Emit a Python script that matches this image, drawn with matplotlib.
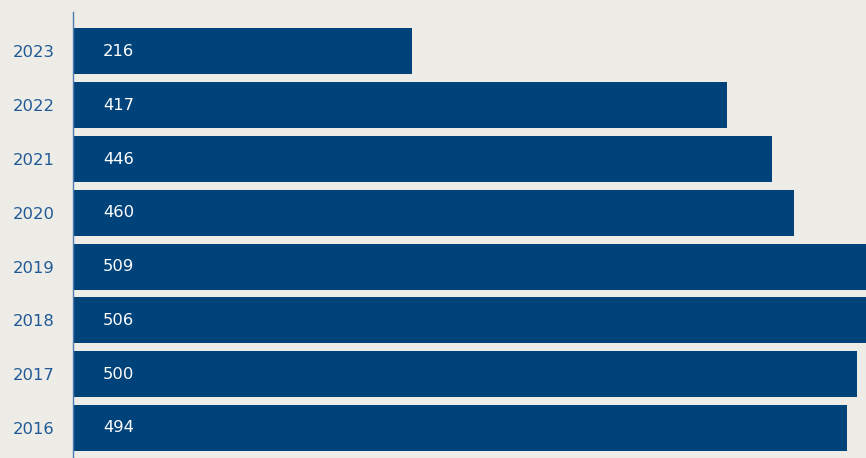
import matplotlib
matplotlib.use("Agg")
import matplotlib.pyplot as plt

years = ["2016", "2017", "2018", "2019", "2020", "2021", "2022", "2023"]
values = [494, 500, 506, 509, 460, 446, 417, 216]

bg = "#eeece7"
bar_color = "#00427a"
label_color = "#1f5a96"

plt.rcParams['font.family'] = ['DejaVu Sans']

fig = plt.figure(figsize=(8.66, 4.58), dpi=100, facecolor=bg)
ax = fig.add_axes([73/866, 0, 1 - 73/866, 1 - 12/458])
ax.set_facecolor(bg)

pos = list(range(len(years)))
ax.barh(pos, values, height=0.855, color=bar_color, zorder=2)

for p, v in zip(pos, values):
    ax.annotate(str(v), xy=(0, p), xytext=(21.6, 0), textcoords='offset points',
                ha='left', va='center', color='white', fontsize=11.8, zorder=3)

ax.set_xlim(0, 506)
ax.set_ylim(-0.558, 7.734)
ax.set_yticks(pos)
ax.set_yticklabels(years, color=label_color, fontsize=11.8)
ax.tick_params(axis='y', length=0, pad=13.5)
ax.set_xticks([])
for s in ['top', 'right', 'bottom']:
    ax.spines[s].set_visible(False)
ax.spines['left'].set_color('#4a7cb0')
ax.spines['left'].set_linewidth(1.0)
ax.spines['left'].set_zorder(4)

fig.savefig("out.png", dpi=100, facecolor=bg)
